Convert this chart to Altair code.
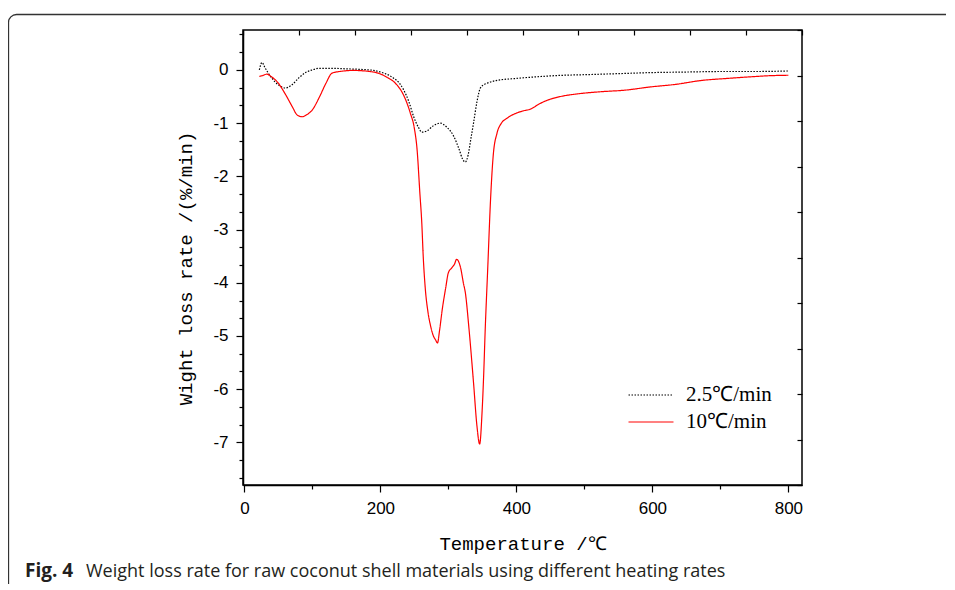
import altair as alt
import pandas as pd

series_names = ["2.5℃/min", "10℃/min"]

T_slow = [22, 26, 30, 40, 50, 60, 70, 80, 90, 100, 110, 130, 150, 170, 190, 205, 219, 228, 234, 242,
          249, 256, 261, 268, 278, 288, 298, 308, 316, 321, 325, 329, 333, 337, 342, 347, 352, 357,
          370, 400, 435, 470, 500, 550, 600, 650, 700, 750, 800]
R_slow = [0.0, 0.14, 0.05, -0.15, -0.28, -0.34, -0.28, -0.15, -0.05, 0.0, 0.03, 0.03, 0.02, 0.01,
          -0.01, -0.06, -0.15, -0.25, -0.37, -0.6, -0.88, -1.08, -1.17, -1.15, -1.05, -1.0, -1.08,
          -1.25, -1.5, -1.68, -1.73, -1.6, -1.3, -1.0, -0.6, -0.34, -0.28, -0.25, -0.2, -0.16,
          -0.125, -0.1, -0.09, -0.07, -0.05, -0.04, -0.03, -0.03, -0.02]

T_fast = [22, 26, 33, 40, 50, 60, 70, 78, 85, 92, 100, 110, 120, 129, 140, 160, 190, 210, 222, 234,
          244, 250, 254, 258, 261, 263, 266, 270, 274, 278, 281, 284, 287, 291, 296, 300, 305, 309,
          312, 315, 318, 322, 325, 330, 337, 342, 346, 349.5, 352, 354, 358, 362, 366, 371.5, 378,
          386, 395, 410, 420, 435, 450, 465, 490, 524, 560, 597, 635, 671, 710, 744, 770, 800]
R_fast = [-0.12, -0.11, -0.08, -0.13, -0.25, -0.45, -0.68, -0.85, -0.88, -0.84, -0.75, -0.52, -0.25,
          -0.06, -0.03, -0.01, -0.04, -0.14, -0.25, -0.47, -0.81, -1.1, -1.5, -2.3, -2.9, -3.5,
          -4.1, -4.55, -4.82, -5.0, -5.07, -5.13, -4.9, -4.5, -4.1, -3.81, -3.72, -3.65, -3.56,
          -3.6, -3.72, -4.0, -4.19, -4.82, -5.88, -6.69, -7.03, -6.44, -5.7, -4.94, -3.69, -2.44,
          -1.6, -1.19, -1.0, -0.91, -0.84, -0.77, -0.74, -0.63, -0.55, -0.5, -0.45, -0.41, -0.38,
          -0.32, -0.27, -0.2, -0.16, -0.13, -0.11, -0.1]

x_ticks = [0, 100, 200, 300, 400, 500, 600, 700, 800]
y_ticks = [k / 3 for k in range(-23, 3)]
top_ticks = [-2, 80.2, 162.4, 244.6, 326.8, 409, 491.2, 573.4, 655.6, 737.8, 820]
right_ticks = [0.75, -0.105, -0.96, -1.815, -2.67, -3.525, -4.38, -5.235, -6.09, -6.945, -7.8]

caption_bold = "Fig. 4"
caption_text = "Weight loss rate for raw coconut shell materials using different heating rates"

df = pd.concat([
    pd.DataFrame({"T": T_slow, "R": R_slow, "series": series_names[0]}),
    pd.DataFrame({"T": T_fast, "R": R_fast, "series": series_names[1]}),
], ignore_index=True)

W, H = 559, 455
xscale = alt.Scale(domain=[-2, 820], nice=False, zero=False)
yscale = alt.Scale(domain=[-7.8, 0.75], nice=False, zero=False)

legend = alt.Legend(
    title=None, orient="none", legendX=396, legendY=353,
    symbolType="M-2,0H2", symbolSize=506, symbolStrokeWidth=1.2,
    labelFont="Liberation Serif", labelFontSize=21, labelColor="black",
    rowPadding=5, labelOffset=23, padding=0,
)

base = alt.Chart(df)

lines = base.mark_line(interpolate="monotone", strokeWidth=1.2).encode(
    x=alt.X("T:Q", scale=xscale, axis=alt.Axis(
        orient="bottom", values=x_ticks,
        labelExpr="datum.value % 200 === 0 ? datum.label : ''",
        tickSize={"condition": {"test": "datum.value % 200 === 0", "value": 7}, "value": 4},
        labelPadding=8, grid=False,
        title="Temperature /℃", titleFont="Liberation Mono", titleFontSize=19,
        titleFontWeight="normal", titleColor="black", titlePadding=18,
    )),
    y=alt.Y("R:Q", scale=yscale, axis=alt.Axis(
        orient="left", values=y_ticks,
        labelExpr="abs(datum.value - round(datum.value)) < 0.001 ? toString(round(datum.value)) : ''",
        tickSize={"condition": {"test": "abs(datum.value - round(datum.value)) < 0.001", "value": 7}, "value": 4},
        labelPadding=8, grid=False,
        title="Wight loss rate /(%/min)", titleFont="Liberation Mono", titleFontSize=19,
        titleFontWeight="normal", titleColor="black", titleX=-48, titleY=238,
    )),
    color=alt.Color("series:N", scale=alt.Scale(domain=series_names, range=["#000000", "#ff0000"]),
                    legend=legend),
    strokeDash=alt.StrokeDash("series:N", scale=alt.Scale(domain=series_names, range=[[1.5, 1.5], [1, 0]]),
                              legend=legend),
)

frame_axes = base.mark_line(opacity=0).encode(
    x=alt.X("T:Q", scale=xscale, axis=alt.Axis(
        orient="top", values=top_ticks, labels=False, domain=False, grid=False,
        tickSize=5, offset=-5, title=None)),
    y=alt.Y("R:Q", scale=yscale, axis=alt.Axis(
        orient="right", values=right_ticks, labels=False, domain=False, grid=False,
        tickSize=5, offset=-5, title=None)),
)

one = pd.DataFrame({"k": [0]})

page_frame = alt.Chart(one).mark_rect(filled=False, stroke="#333333", strokeWidth=1.3, cornerRadius=8).encode(
    x=alt.value(-234.5), x2=alt.value(W + 170), y=alt.value(-15.5), y2=alt.value(H + 200),
)

cap1 = alt.Chart(one).mark_text(align="left", baseline="alphabetic", font="Open Sans",
                                fontSize=19, fontWeight="bold", color="#231f20").encode(
    x=alt.value(-218), y=alt.value(547), text=alt.value(caption_bold),
)
cap2 = alt.Chart(one).mark_text(align="left", baseline="alphabetic", font="Open Sans",
                                fontSize=18, color="#231f20").encode(
    x=alt.value(-157), y=alt.value(547), text=alt.value(caption_text),
)

chart = alt.layer(page_frame, lines, frame_axes, cap1, cap2).resolve_axis(
    x="independent", y="independent"
).properties(
    width=W, height=H,
    autosize=alt.AutoSizeParams(type="none"),
    padding={"left": 235, "top": 22, "right": 144, "bottom": 99},
).configure_view(
    stroke="black", strokeWidth=1.5
).configure_axis(
    labelFont="Liberation Sans", labelFontSize=17, labelColor="black",
    domainColor="black", domainWidth=1.5, tickColor="black", tickWidth=1.2,
)

chart.save("out.html", embed_options={"renderer": "svg", "actions": False})
